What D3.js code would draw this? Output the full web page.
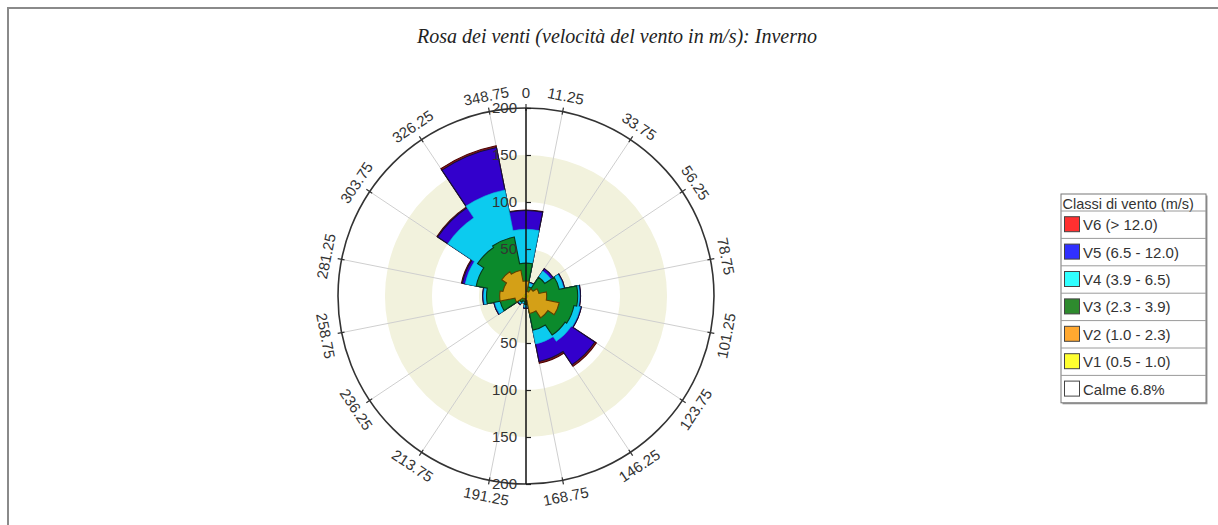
<!DOCTYPE html>
<html>
<head>
<meta charset="utf-8">
<script src="https://cdn.jsdelivr.net/npm/d3@7"></script>
<style>
  html, body { margin: 0; padding: 0; background: #fff; }
  svg { display: block; }
</style>
</head>
<body>
<svg id="chart" width="1218" height="525"></svg>
<script>
// Wind rose, winter: stacked frequency per direction sector and speed class
const sectors = ["N","NNE","NE","ENE","E","ESE","SE","SSE","S","SSW","SW","WSW","W","WNW","NW","NNW"];
const sectorAngles = [0, 22.5, 45, 67.5, 90, 112.5, 135, 157.5, 180, 202.5, 225, 247.5, 270, 292.5, 315, 337.5];

const classKeys = ["V1","V2","V3","V4","V5","V6"];
const V1 = [2, 1, 1, 1, 2, 2, 2, 1, 1, 1, 1, 1, 2, 2, 2, 2];
const V2 = [14, 4, 8, 13, 20, 34, 26, 18, 4, 2, 3, 11, 26, 23, 29, 26];
const V3 = [19, 5, 15, 22, 33, 16, 22, 18, 4, 3, 4, 16, 14, 29, 31, 36];
const V4 = [36, 4, 8, 5, 2, 7, 8, 15, 3, 2, 2, 6, 3, 12, 38, 51];
const V5 = [20, 1, 3, 1, 1, 1, 30, 19, 1, 0, 1, 1, 1, 3, 13, 46];
const V6 = [0.5, 0, 0, 0, 0, 0, 2, 2, 0, 0, 0, 0, 0, 1, 1, 2];

const legendTitle = "Classi di vento (m/s)";
const legendLabels = ["V6 (> 12.0)", "V5 (6.5 - 12.0)", "V4 (3.9 - 6.5)", "V3 (2.3 - 3.9)", "V2 (1.0 - 2.3)", "V1 (0.5 - 1.0)", "Calme 6.8%"];

const directionLabels = ["0","11.25","33.75","56.25","78.75","101.25","123.75","146.25","168.75","191.25","213.75","236.25","258.75","281.25","303.75","326.25","348.75"];
const spokeLabels = directionLabels.slice(1);
const radialTicks = [50, 100, 150, 200];
const radialMax = 200;
const shadedBands = [[0, 50], [100, 150]];

const titleText = "Rosa dei venti (velocità del vento in m/s): Inverno";

// Styling
const fills = { V1: "#ffee00", V2: "#d4a017", V3: "#0b8a2c", V4: "#0ccbef", V5: "#3300cc", V6: "#8b1a1a" };
const strokes = { V1: "#b0a000", V2: "#5a4200", V3: "#08361a", V4: "#08b4d8", V5: "#14103a", V6: "#4a0000" };
const legendFills = { V6: "#ff3030", V5: "#3030ff", V4: "#30ffff", V3: "#2e8b2e", V2: "#ffa830", V1: "#ffff30", Calme: "#ffffff" };
const legendKeys = ["V6","V5","V4","V3","V2","V1","Calme"];

const svg = d3.select("#chart");
const W = 1218, H = 525;
const sansFont = "'Liberation Sans', Arial, sans-serif";

// Outer frame (top and left edges)
svg.append("path")
  .attr("d", `M8,${H} L8,8 L${W},8`)
  .attr("fill", "none").attr("stroke", "#8a8a8a").attr("stroke-width", 2);

svg.append("text")
  .attr("x", 617).attr("y", 43)
  .attr("text-anchor", "middle")
  .attr("font-family", "'Liberation Serif', 'Times New Roman', serif")
  .attr("font-style", "italic")
  .attr("font-size", 20)
  .attr("fill", "#222")
  .text(titleText);

const cx = 526, cy = 296;
const R = 188;
const r = d3.scaleLinear().domain([0, radialMax]).range([0, R]);
const toRad = d => d * Math.PI / 180;

const g = svg.append("g").attr("transform", `translate(${cx},${cy})`);

// Shaded rings
const ring = d3.arc();
g.selectAll("path.band").data(shadedBands).join("path")
  .attr("class", "band")
  .attr("d", b => ring({ innerRadius: r(b[0]), outerRadius: r(b[1]), startAngle: 0, endAngle: 2 * Math.PI }))
  .attr("fill", "#f2f2dd");

// Spokes on sector boundaries
const spokeAngles = spokeLabels.map(Number);
g.selectAll("line.spoke").data(spokeAngles).join("line")
  .attr("class", "spoke")
  .attr("x1", 0).attr("y1", 0)
  .attr("x2", a => R * Math.sin(toRad(a)))
  .attr("y2", a => -R * Math.cos(toRad(a)))
  .attr("stroke", "#cfcfcf").attr("stroke-width", 1);

// Stacked classes: each cumulative level is drawn as one stepped outline
const rows = sectors.map((s, i) => ({ sector: s, angle: sectorAngles[i], V1: V1[i], V2: V2[i], V3: V3[i], V4: V4[i], V5: V5[i], V6: V6[i] }));
const stacked = d3.stack().keys(classKeys)(rows);
const half = 11.25;

function levelPath(layer) {
  const p = d3.path();
  layer.forEach((d, i) => {
    const a0 = toRad(d.data.angle - half) - Math.PI / 2;
    const a1 = toRad(d.data.angle + half) - Math.PI / 2;
    const rr = r(d[1]);
    if (i === 0) p.moveTo(rr * Math.cos(a0), rr * Math.sin(a0));
    else p.lineTo(rr * Math.cos(a0), rr * Math.sin(a0));
    p.arc(0, 0, rr, a0, a1);
  });
  p.closePath();
  return p.toString();
}

g.selectAll("path.level").data(stacked.slice().reverse()).join("path")
  .attr("class", "level")
  .attr("d", levelPath)
  .attr("fill", l => fills[l.key])
  .attr("stroke", l => strokes[l.key])
  .attr("stroke-width", l => l.key === "V4" ? 0.6 : 1.1)
  .attr("stroke-linejoin", "miter");

// Outer circle
g.append("circle").attr("r", R).attr("fill", "none").attr("stroke", "#333").attr("stroke-width", 1.6);

// Direction ticks and labels
const dirAngles = directionLabels.map(Number);
g.selectAll("line.dtick").data(dirAngles).join("line")
  .attr("class", "dtick")
  .attr("x1", a => (R - 3) * Math.sin(toRad(a)))
  .attr("y1", a => -(R - 3) * Math.cos(toRad(a)))
  .attr("x2", a => (R + 4) * Math.sin(toRad(a)))
  .attr("y2", a => -(R + 4) * Math.cos(toRad(a)))
  .attr("stroke", "#333").attr("stroke-width", 1.2);

const labelR = R + 16;
g.selectAll("text.dlab").data(directionLabels).join("text")
  .attr("class", "dlab")
  .attr("transform", t => {
    const a = Number(t);
    const x = labelR * Math.sin(toRad(a));
    const y = -labelR * Math.cos(toRad(a));
    const rot = (a > 90 && a < 270) ? a - 180 : (a >= 270 ? a - 360 : a);
    return `translate(${x},${y}) rotate(${rot})`;
  })
  .attr("text-anchor", "middle")
  .attr("dominant-baseline", "central")
  .attr("font-family", sansFont)
  .attr("font-size", 15)
  .attr("fill", "#333")
  .text(t => t);

// Vertical radial axis through the centre
const yUp = d3.scaleLinear().domain([0, radialMax]).range([0, -R]);
const yDown = d3.scaleLinear().domain([0, radialMax]).range([0, R]);
g.append("line").attr("x1", 0).attr("x2", 0).attr("y1", -R).attr("y2", R)
  .attr("stroke", "#111").attr("stroke-width", 1.5);

[yUp, yDown].forEach(sc => {
  const ax = g.append("g").call(
    d3.axisLeft(sc).tickValues(radialTicks).tickSize(5).tickSizeOuter(0).tickPadding(4)
  );
  ax.select(".domain").remove();
  ax.selectAll(".tick line").attr("x2", 5).attr("stroke", "#222").attr("stroke-width", 1.2);
  ax.selectAll(".tick text")
    .attr("font-family", sansFont)
    .attr("font-size", 15)
    .attr("fill", "#333");
});

// Legend
const lx = 1061, ly = 194, lw = 145, titleH = 17, rowH = 27.4;
const lg = svg.append("g").attr("transform", `translate(${lx},${ly})`);
const lh = titleH + rowH * legendKeys.length;
lg.append("rect").attr("x", 1.5).attr("y", 1.5).attr("width", lw).attr("height", lh).attr("fill", "#999");
lg.append("rect").attr("width", lw).attr("height", lh).attr("fill", "#fff").attr("stroke", "#777").attr("stroke-width", 1);
lg.append("text").attr("x", 1.5).attr("y", titleH / 2 + 1)
  .attr("dominant-baseline", "central")
  .attr("font-family", sansFont)
  .attr("font-size", 14.5).attr("fill", "#333")
  .text(legendTitle);

const rowsG = lg.selectAll("g.row").data(legendKeys).join("g")
  .attr("class", "row")
  .attr("transform", (k, i) => `translate(0,${titleH + i * rowH})`);
rowsG.append("line").attr("x1", 0).attr("x2", lw).attr("y1", 0).attr("y2", 0)
  .attr("stroke", "#9a9a9a").attr("stroke-width", 1);
rowsG.append("rect").attr("x", 3.5).attr("y", rowH / 2 - 8).attr("width", 15).attr("height", 15)
  .attr("fill", k => legendFills[k]).attr("stroke", "#444").attr("stroke-width", 1);
rowsG.append("text").attr("x", 22).attr("y", rowH / 2)
  .attr("dominant-baseline", "central")
  .attr("font-family", sansFont)
  .attr("font-size", 15).attr("fill", "#333")
  .text((k, i) => legendLabels[i]);
</script>
</body>
</html>
